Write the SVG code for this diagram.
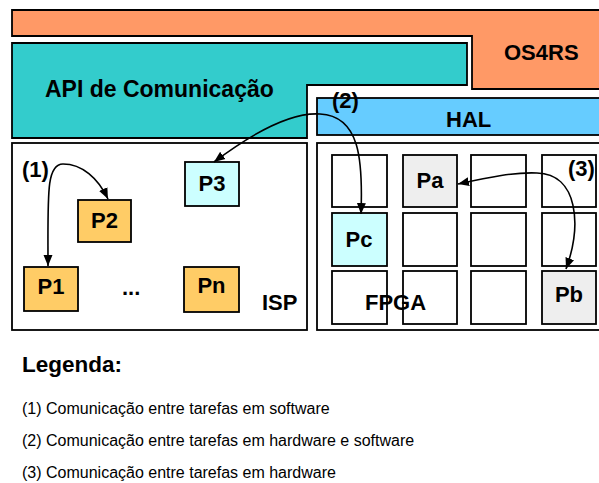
<svg xmlns="http://www.w3.org/2000/svg" width="599" height="483" viewBox="0 0 599 483">
<defs>
<style>
.b{stroke:#000;stroke-width:1.8}
.t{font-family:"Liberation Sans",Arial,sans-serif;font-weight:bold;font-size:22px;fill:#000}
.tc{text-anchor:middle}
.l{font-family:"Liberation Sans",Arial,sans-serif;font-size:16px;fill:#000}
.cell{fill:#fff;stroke:#000;stroke-width:1.8}
.po{fill:#FFCC66}
.pc{fill:#CCFFFF}
.pg{fill:#EEEEEE}
.arr{fill:none;stroke:#000;stroke-width:1.6;marker-start:url(#ah);marker-end:url(#ah)}
</style>
<marker id="ah" markerUnits="userSpaceOnUse" markerWidth="12" markerHeight="10" refX="11" refY="4.5" orient="auto-start-reverse" viewBox="0 0 12 9">
<path d="M0,0 L11,4.5 L0,9 z" fill="#000"/>
</marker>
</defs>
<rect width="599" height="483" fill="#fff"/>

<g id="os4rs">
<path class="b" fill="#FF9966" d="M12,10 H605 V89 H472 V36 H12 Z"/>
<text class="t" x="504" y="60">OS4RS</text>
</g>

<g id="api">
<path class="b" fill="#33CCCC" d="M12,43 H467 V85 H307 V138 H12 Z"/>
<text class="t" x="45" y="97" style="font-size:23px">API de Comunicação</text>
</g>

<g id="hal">
<rect class="b" fill="#66CCFF" x="317" y="98" width="290" height="37"/>
<text class="t" x="446" y="127">HAL</text>
</g>

<g id="isp">
<rect class="b" fill="#fff" x="12" y="143" width="295" height="187"/>
<text class="t" x="262" y="310">ISP</text>
<text class="t" x="122" y="295">...</text>
</g>

<g id="fpga">
<rect class="b" fill="#fff" x="317" y="143" width="290" height="187"/>
<rect class="cell" x="332" y="155" width="55" height="52"/>
<rect class="cell" x="471" y="155" width="55" height="52"/>
<rect class="cell" x="542" y="155" width="54" height="52"/>
<rect class="cell" x="403" y="213" width="54" height="53"/>
<rect class="cell" x="471" y="213" width="55" height="53"/>
<rect class="cell" x="542" y="213" width="54" height="53"/>
<rect class="cell" x="332" y="271" width="55" height="53"/>
<rect class="cell" x="403" y="271" width="54" height="53"/>
<rect class="cell" x="471" y="271" width="55" height="53"/>
<text class="t" x="365" y="310">FPGA</text>
</g>

<g id="p1"><rect class="cell po" x="24" y="267" width="54" height="44"/><text class="t tc" x="51" y="294">P1</text></g>
<g id="p2"><rect class="cell po" x="78" y="200" width="53" height="42"/><text class="t tc" x="104.5" y="228">P2</text></g>
<g id="p3"><rect class="cell pc" x="185" y="162" width="54" height="44"/><text class="t tc" x="212" y="191">P3</text></g>
<g id="pn"><rect class="cell po" x="184" y="267" width="55" height="45"/><text class="t tc" x="211.5" y="293">Pn</text></g>
<g id="pa"><rect class="cell pg" x="403" y="155" width="54" height="52"/><text class="t tc" x="430" y="188">Pa</text></g>
<g id="pc"><rect class="cell pc" x="332" y="213" width="55" height="53"/><text class="t tc" x="359" y="247">Pc</text></g>
<g id="pb"><rect class="cell pg" x="542" y="271" width="54" height="53"/><text class="t tc" x="569" y="302">Pb</text></g>

<g id="connectors">
<path class="arr" d="M48,266 C48,195 46,164 63,164 C82,164 98,178 108,199"/>
<path class="arr" d="M214,162 C250,135 290,112 320,114 C360,116 363,160 361,214"/>
<path class="arr" d="M458,184 C490,177 515,172 537,173 C578,174 582,225 566,269"/>
<text class="t" x="22" y="177">(1)</text>
<text class="t" x="332" y="108">(2)</text>
<text class="t" x="568" y="176">(3)</text>
</g>

<g id="legend">
<text class="t" x="22" y="372" style="font-size:22.5px">Legenda:</text>
<text class="l" x="22" y="414">(1) Comunicação entre tarefas em software</text>
<text class="l" x="22" y="446">(2) Comunicação entre tarefas em hardware e software</text>
<text class="l" x="22" y="478">(3) Comunicação entre tarefas em hardware</text>
</g>
</svg>
